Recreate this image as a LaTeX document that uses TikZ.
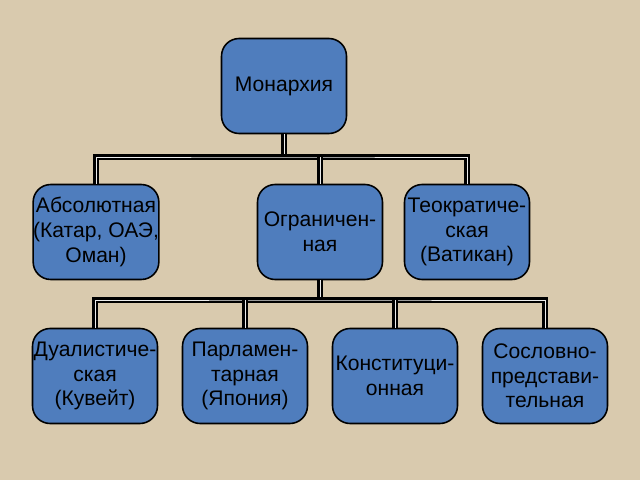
\documentclass[tikz,border=0pt]{standalone}
\usepackage{fontspec}
\setmainfont{Liberation Sans}
\definecolor{paper}{HTML}{D9CAAE}
\definecolor{boxblue}{HTML}{4F7DBD}
\begin{document}
\begin{tikzpicture}[x=0.02cm,y=-0.02cm,
  box/.style={draw=black,line width=0.9pt,fill=boxblue,rounded corners=10pt,minimum width=2.5cm,minimum height=1.9cm,align=center,inner sep=0pt,font=\fontsize{12}{14}\selectfont},
  conn/.style={draw=black,line width=1.7pt,double=white!85!gray,double distance=0.5pt}]
\fill[paper] (0,0) rectangle (640,480);
\useasboundingbox (0,0) rectangle (640,480);
\node[box] (m) at (284,86) {Монархия};
\node[box] (a) at (96,232) {Абсолютная\\(Катар, ОАЭ,\\Оман)};
\node[box] (o) at (320,232) {Ограничен-\\ная};
\node[box] (t) at (467,232) {Теократиче-\\ская\\(Ватикан)};
\node[box] (d) at (95,376) {Дуалистиче-\\ская\\(Кувейт)};
\node[box] (p) at (245,376) {Парламен-\\тарная\\(Япония)};
\node[box] (k) at (395,376) {Конституци-\\онная};
\node[box] (s) at (545,376) {Сословно-\\представи-\\тельная};
\coordinate (h1) at (284,157);
\coordinate (h2) at (320,300);
\draw[conn] (m.south) -- (h1);
\draw[conn] (a.north) |- (h1) -| (t.north);
\draw[conn] (o.north) -- (o.north |- h1);
\draw[conn] (o.south) -- (h2);
\draw[conn] (d.north) |- (h2) -| (s.north);
\draw[conn] (p.north) -- (p.north |- h2);
\draw[conn] (k.north) -- (k.north |- h2);
\end{tikzpicture}
\end{document}
